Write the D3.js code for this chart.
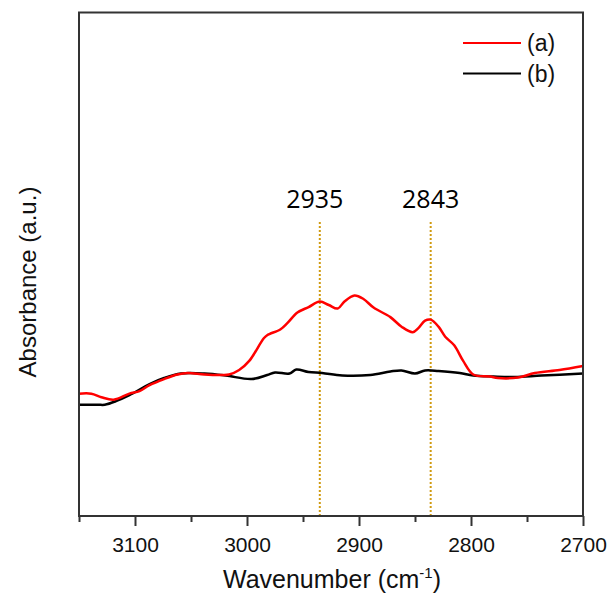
<!DOCTYPE html>
<html><head><meta charset="utf-8">
<script src="https://cdn.jsdelivr.net/npm/d3@7"></script>
<style>html,body{margin:0;padding:0;background:#fff;}svg{display:block;}</style>
</head><body>
<svg id="chart" width="608" height="597"></svg>
<script>
// Data (wavenumber cm-1, absorbance a.u.)
const seriesA_x = [3150,3139,3130,3119,3105,3096,3087,3074,3062,3053,3038,3022,3016,3007,2998,2985,2982,2970,2964,2955,2945,2935,2927,2919,2913,2904,2896,2887,2872,2862,2852,2847,2841,2836,2829,2823,2815,2807,2798,2783,2776,2758,2743,2721,2700];
const seriesA_y = [0.243,0.243,0.236,0.231,0.243,0.248,0.260,0.272,0.281,0.284,0.281,0.280,0.281,0.290,0.308,0.353,0.359,0.371,0.383,0.404,0.415,0.426,0.419,0.412,0.426,0.438,0.431,0.414,0.395,0.376,0.365,0.373,0.388,0.390,0.376,0.356,0.339,0.308,0.281,0.277,0.274,0.275,0.284,0.290,0.298];
const seriesB_x = [3150,3133,3127,3117,3105,3087,3074,3059,3038,3019,2996,2982,2975,2962,2956,2945,2933,2915,2890,2872,2862,2850,2841,2829,2810,2798,2780,2761,2737,2700];
const seriesB_y = [0.221,0.221,0.221,0.228,0.240,0.262,0.274,0.283,0.283,0.279,0.272,0.280,0.285,0.283,0.291,0.286,0.284,0.279,0.280,0.287,0.289,0.283,0.289,0.288,0.284,0.279,0.277,0.276,0.279,0.283];
const seriesNames = ["(a)", "(b)"];
const seriesColors = ["#ff0000", "#000000"];
const majorTicks = [3100, 3000, 2900, 2800, 2700];
const minorTicks = [3150, 3050, 2950, 2850, 2750];
const markerPos = [2935, 2836];
const markerLabels = ["2935", "2843"];
const xDomain = [3150, 2700];
const yDomain = [0, 1];

const svg = d3.select("#chart");
const L = 79, R = 583, T = 12.5, B = 516;
const x = d3.scaleLinear().domain(xDomain).range([L, R]);
const y = d3.scaleLinear().domain(yDomain).range([B, T]);

// marker dotted lines
const mk = svg.append("g");
markerPos.forEach((p, i) => {
  mk.append("line").attr("x1", x(p)).attr("x2", x(p)).attr("y1", 222).attr("y2", B)
    .attr("stroke", "#d09a10").attr("stroke-width", 2).attr("stroke-dasharray", "2,2");
  mk.append("text").attr("x", x(p) + (i === 0 ? -5 : 0)).attr("y", 208)
    .attr("text-anchor", "middle").attr("font-family", "Open Sans, sans-serif")
    .attr("font-size", 25).attr("fill", "#000").text(markerLabels[i]);
});

// lines
const line = d3.line().x(d => x(d[0])).y(d => y(d[1])).curve(d3.curveCatmullRom);
const dataA = seriesA_x.map((v, i) => [v, seriesA_y[i]]);
const dataB = seriesB_x.map((v, i) => [v, seriesB_y[i]]);
svg.append("path").datum(dataB).attr("d", line).attr("fill", "none")
  .attr("stroke", seriesColors[1]).attr("stroke-width", 2.5).attr("stroke-linejoin", "round");
svg.append("path").datum(dataA).attr("d", line).attr("fill", "none")
  .attr("stroke", seriesColors[0]).attr("stroke-width", 2.5).attr("stroke-linejoin", "round");

// frame
svg.append("rect").attr("x", L).attr("y", T).attr("width", R - L).attr("height", B - T)
  .attr("fill", "none").attr("stroke", "#333").attr("stroke-width", 2);

// x axis
const ax = svg.append("g").attr("transform", `translate(0,${B})`)
  .call(d3.axisBottom(x).tickValues(majorTicks).tickSize(10).tickPadding(11).tickFormat(d3.format("d")));
ax.select(".domain").remove();
ax.selectAll(".tick line").attr("stroke", "#333").attr("stroke-width", 2);
ax.selectAll(".tick text").attr("font-family", "Liberation Sans, Arial, sans-serif")
  .attr("font-size", 21).attr("fill", "#111");
const axm = svg.append("g").attr("transform", `translate(0,${B})`)
  .call(d3.axisBottom(x).tickValues(minorTicks).tickSize(6).tickFormat(""));
axm.select(".domain").remove();
axm.selectAll(".tick line").attr("stroke", "#333").attr("stroke-width", 2);

// axis titles
const xt = svg.append("text").attr("x", (L + R) / 2 + 1).attr("y", 588).attr("text-anchor", "middle")
  .attr("font-family", "Liberation Sans, Arial, sans-serif").attr("font-size", 25).attr("fill", "#111");
xt.append("tspan").text("Wavenumber (cm");
xt.append("tspan").attr("font-size", 15).attr("dy", -10).text("-1");
xt.append("tspan").attr("dy", 10).text(")");

svg.append("text").attr("transform", "translate(36,282) rotate(-90)").attr("text-anchor", "middle")
  .attr("font-family", "Liberation Sans, Arial, sans-serif").attr("font-size", 24).attr("fill", "#111")
  .text("Absorbance (a.u.)");

// legend
const lg = svg.append("g");
seriesNames.forEach((n, i) => {
  const yy = 43 + i * 30.5;
  lg.append("line").attr("x1", 463).attr("x2", 521).attr("y1", yy).attr("y2", yy)
    .attr("stroke", seriesColors[i]).attr("stroke-width", 2.2);
  lg.append("text").attr("x", 527).attr("y", yy + 8).attr("font-family", "Liberation Sans, Arial, sans-serif")
    .attr("font-size", 23).attr("fill", "#111").text(n);
});
</script>
</body></html>
